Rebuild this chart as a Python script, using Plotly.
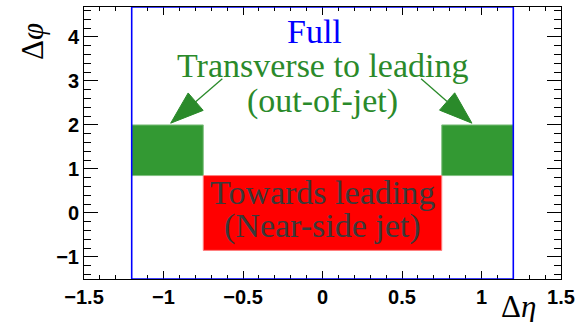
import math
import plotly.graph_objects as go

# ---- data ----
x_range = [-1.5, 1.5]
y_range = [-1.5, 4.68]

full_eta = [-1.2, 1.2]
towards_eta = [-0.75, 0.75]
towards_phi = [-0.85, 0.85]
trans_left_eta = [-1.2, -0.75]
trans_right_eta = [0.75, 1.2]
trans_phi = [0.85, 2.0]

label_texts = ["Full", "Transverse to leading", "(out-of-jet)", "Towards leading", "(Near-side jet)"]
label_x = [-0.05, 0.0, 0.0, 0.0, 0.0]
label_y = [4.12, 3.35, 2.55, 0.46, -0.29]
label_colors = ["#0000ff", "#2a8a2a", "#2a8a2a", "#3a3a3a", "#3a3a3a"]

arrow_tail_x = [-0.63, 0.62]
arrow_tail_y = [3.05, 3.05]
arrow_tip_x = [-0.955, 0.94]
arrow_tip_y = [2.04, 2.04]

# ---- layout geometry ----
W, H = 577, 322
ML, MR, MT, MB = 84, 16, 7, 43
pw, ph = W - ML - MR, H - MT - MB
sx = pw / (x_range[1] - x_range[0])
sy = ph / (y_range[1] - y_range[0])

SERIF = "Liberation Serif, Times New Roman, Tinos, DejaVu Serif, serif"
GREEN_BOX = "#339933"
GREEN_TXT = "#2a8a2a"

fig = go.Figure()
fig.add_trace(go.Scatter(x=x_range, y=y_range, mode="markers", marker=dict(opacity=0), hoverinfo="skip", showlegend=False))

shapes = []
for ex in (trans_left_eta, trans_right_eta):
    shapes.append(dict(type="rect", xref="x", yref="y", x0=ex[0], x1=ex[1], y0=trans_phi[0], y1=trans_phi[1],
                       fillcolor=GREEN_BOX, line=dict(color="#7fbf7f", width=1), layer="below"))
shapes.append(dict(type="rect", xref="x", yref="y", x0=towards_eta[0], x1=towards_eta[1], y0=towards_phi[0], y1=towards_phi[1],
                   fillcolor="#ff0000", line=dict(color="#ff8080", width=1), layer="below"))
shapes.append(dict(type="rect", xref="x", yref="y", x0=full_eta[0], x1=full_eta[1], y0=y_range[0], y1=y_range[1],
                   fillcolor="rgba(0,0,0,0)", line=dict(color="#0000ff", width=1.6), layer="above"))

# arrows: line + big filled triangular head
L_HEAD, W_HEAD = 33.0, 23.0
for tx, ty, hx, hy in zip(arrow_tail_x, arrow_tail_y, arrow_tip_x, arrow_tip_y):
    dx, dy = (hx - tx) * sx, (hy - ty) * sy
    n = math.hypot(dx, dy)
    ux, uy = dx / n, dy / n
    bx, by = hx - ux * L_HEAD / sx, hy - uy * L_HEAD / sy
    px_, py_ = -uy, ux
    c1 = (bx + px_ * W_HEAD / 2 / sx, by + py_ * W_HEAD / 2 / sy)
    c2 = (bx - px_ * W_HEAD / 2 / sx, by - py_ * W_HEAD / 2 / sy)
    shapes.append(dict(type="line", xref="x", yref="y", x0=tx, y0=ty, x1=bx, y1=by,
                       line=dict(color=GREEN_TXT, width=1.3), layer="above"))
    shapes.append(dict(type="path", xref="x", yref="y",
                       path=f"M{hx},{hy} L{c1[0]},{c1[1]} L{c2[0]},{c2[1]} Z",
                       fillcolor=GREEN_TXT, line=dict(color=GREEN_TXT, width=1), layer="above"))

annotations = []
for t, x, y, c in zip(label_texts, label_x, label_y, label_colors):
    annotations.append(dict(text=t, x=x, y=y, xref="x", yref="y", showarrow=False,
                            xanchor="center", yanchor="middle",
                            font=dict(family=SERIF, size=34, color=c)))

# axis titles
annotations.append(dict(text="Δ<i>η</i>", x=(518 - ML) / pw, y=(H - MB - 306) / ph, xref="paper", yref="paper",
                        showarrow=False, xanchor="center", yanchor="middle",
                        font=dict(family=SERIF, size=31, color="black")))
annotations.append(dict(text="Δ<i>φ</i>", x=(32 - ML) / pw, y=(H - MB - 42) / ph, xref="paper", yref="paper",
                        showarrow=False, xanchor="center", yanchor="middle", textangle=-90,
                        font=dict(family=SERIF, size=31, color="black")))

tickfont = dict(family="Liberation Sans, Arial, sans-serif", size=20, color="black", weight="bold")

fig.update_layout(
    template="none",
    width=W, height=H,
    margin=dict(l=ML, r=MR, t=MT, b=MB, pad=0),
    paper_bgcolor="white", plot_bgcolor="white",
    showlegend=False,
    shapes=shapes, annotations=annotations,
    xaxis=dict(range=x_range, showgrid=False, zeroline=False, showline=True, linecolor="black", linewidth=1,
               automargin=False,
               mirror="ticks", ticks="inside", ticklen=8, tickcolor="black", tickwidth=1,
               tickmode="array", tickvals=[-1.5, -1, -0.5, 0, 0.5, 1, 1.5],
               ticktext=["−1.5", "−1", "−0.5", "0", "0.5", "1", "1.5"],
               minor=dict(ticks="inside", ticklen=4, dtick=0.1, tick0=0, tickcolor="black", showgrid=False),
               tickfont=tickfont, fixedrange=True),
    yaxis=dict(range=y_range, showgrid=False, zeroline=False, showline=True, linecolor="black", linewidth=1,
               automargin=False,
               mirror="ticks", ticks="inside", ticklen=14, tickcolor="black", tickwidth=1,
               tickmode="array", tickvals=[-1, 0, 1, 2, 3, 4],
               ticktext=["−1", "0", "1", "2", "3", "4"],
               minor=dict(ticks="inside", ticklen=7, dtick=0.2, tick0=0, tickcolor="black", showgrid=False),
               tickfont=tickfont, fixedrange=True),
)

fig.write_html("out.html")
